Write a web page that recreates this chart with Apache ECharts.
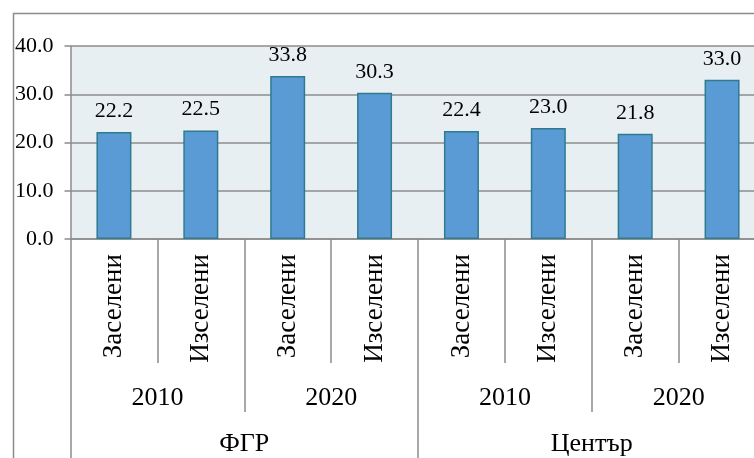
<!DOCTYPE html>
<html>
<head>
<meta charset="utf-8">
<script src="https://cdn.jsdelivr.net/npm/echarts@6/dist/echarts.min.js"></script>
<style>
html,body{margin:0;padding:0;background:#fff;}
#chart{width:754px;height:458px;}
</style>
</head>
<body>
<div id="chart"></div>
<script>
var categories = ['Заселени','Изселени','Заселени','Изселени','Заселени','Изселени','Заселени','Изселени'];
var years = ['2010','2020','2010','2020'];
var groups = ['ФГР','Център'];
var values = [22.2, 22.5, 33.8, 30.3, 22.4, 23.0, 21.8, 33.0];
var yTicks = [0, 10, 20, 30, 40];

var FONT = "'Liberation Serif','Times New Roman',serif";
var GRAY = '#8c8c8c';
var chart = echarts.init(document.getElementById('chart'));
chart.setOption({
  animation: false,
  backgroundColor: '#ffffff',
  graphic: [{
    type: 'rect', left: 11, top: 11,
    shape: {x: 0, y: 0, width: 800, height: 500},
    style: {fill: 'none', stroke: GRAY, lineWidth: 1.5},
    silent: true, z: -1
  }],
  grid: {left: 70.5, top: 46, width: 695, height: 193, show: true, backgroundColor: '#e8eff3', borderWidth: 0,
    containLabel: false, outerBoundsMode: 'none'},
  yAxis: {
    type: 'value', min: yTicks[0], max: yTicks[yTicks.length-1], interval: 10,
    axisLine: {show: true, lineStyle: {color: GRAY, width: 1.5}},
    axisTick: {show: true, length: 6, lineStyle: {color: GRAY, width: 1.5}},
    splitLine: {show: true, lineStyle: {color: GRAY, width: 1.5}},
    axisLabel: {fontFamily: FONT, fontSize: 22, color: '#000', margin: 17,
      formatter: function(v){ return v.toFixed(1); }}
  },
  xAxis: [
    {
      type: 'category', data: categories, position: 'bottom',
      axisLine: {show: true, lineStyle: {color: GRAY, width: 1.5}},
      axisTick: {show: true, length: 124, lineStyle: {color: GRAY, width: 1.5}},
      axisLabel: {rotate: 90, fontFamily: FONT, fontSize: 27, color: '#000', margin: 15, interval: 0}
    },
    {
      type: 'category', data: years, position: 'bottom', gridIndex: 0,
      axisLine: {show: false},
      axisTick: {show: true, length: 173, lineStyle: {color: GRAY, width: 1.5}},
      axisLabel: {fontFamily: FONT, fontSize: 26, color: '#000', margin: 146, interval: 0}
    },
    {
      type: 'category', data: groups, position: 'bottom', gridIndex: 0,
      axisLine: {show: false},
      axisTick: {show: true, length: 240, lineStyle: {color: GRAY, width: 1.5}},
      axisLabel: {fontFamily: FONT, fontSize: 26, color: '#000', margin: 192, interval: 0}
    }
  ],
  series: [{
    type: 'bar', xAxisIndex: 0, data: values, barWidth: 35,
    itemStyle: {color: '#5b9bd5', borderColor: '#2e7b8f', borderWidth: 1.5},
    label: {show: true, position: 'top', distance: 10, fontFamily: FONT, fontSize: 22, color: '#000',
      formatter: function(p){ return p.value.toFixed(1); }}
  }]
});
</script>
</body>
</html>
